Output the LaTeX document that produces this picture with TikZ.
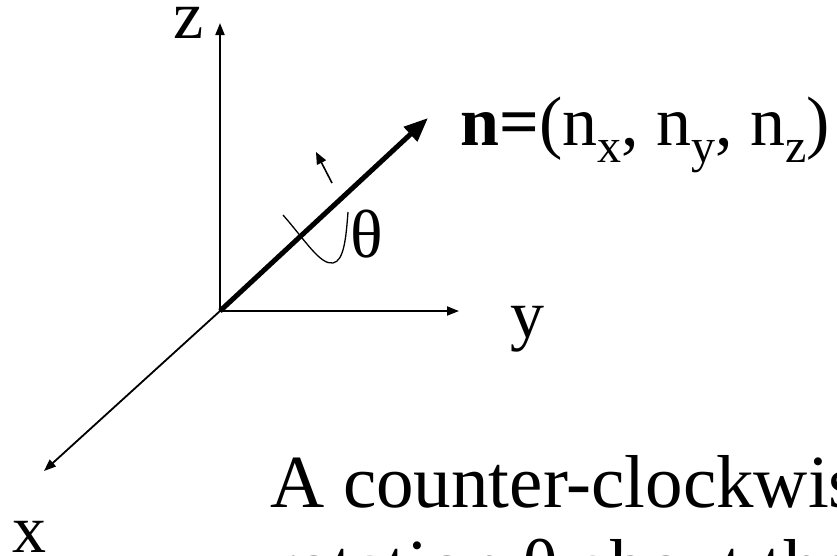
\documentclass[tikz,border=0pt]{standalone}
\usepackage{fontspec}
\setmainfont{Liberation Serif}
\usetikzlibrary{arrows.meta}
\begin{document}
\begin{tikzpicture}[x=1pt,y=-1pt,
  axis/.style={line width=1.8pt,-{Triangle[length=12pt,width=9pt]}},
  nvec/.style={line width=5pt,-{Triangle[length=24pt,width=19pt]}},
  rotarrow/.style={line width=1.6pt,-{Triangle[length=12pt,width=10pt]}},
  rotcurve/.style={line width=1.3pt},
  lab/.style={inner sep=0pt,anchor=base west,font=\fontsize{68}{80}\selectfont},
  nlab/.style={inner sep=0pt,anchor=base west,font=\fontsize{70}{80}\selectfont},
  bigtext/.style={inner sep=0pt,anchor=base west,font=\fontsize{75}{84}\selectfont}]
\useasboundingbox (0,0) rectangle (837,555);
\clip (0,0) rectangle (837,555);
\coordinate (O) at (220,311);
\coordinate (ztip) at (220,23);
\coordinate (ytip) at (459,311);
\coordinate (xtip) at (44,471);
\coordinate (ntip) at (428,118);
\coordinate (rs) at (332,183);
\coordinate (rt) at (316,152);
\coordinate (cs) at (283,215);
\coordinate (cb) at (333,263);
\coordinate (ce) at (348,212);
\draw[axis] (O) -- (ztip);
\draw[axis] (O) -- (ytip);
\draw[axis] (O) -- (xtip);
\draw[rotcurve] (cs) .. controls (305,240) and (320,265) .. (cb)
  .. controls (344,261) and (346,238) .. (ce);
\draw[nvec] (O) -- (ntip);
\draw[rotarrow] (rs) -- (rt);
\node[lab] (zl) at (173,38) {z};
\node[lab] (yl) at (510,337) {y};
\node[lab] (xl) at (12,552) {x};
\node[lab] (th) at (350,257) {θ};
\node[nlab] (nl) at (460,145) {\textbf{n=}(n\raisebox{-17pt}{\fontsize{48}{48}\selectfont x}, n\raisebox{-17pt}{\fontsize{48}{48}\selectfont y}, n\raisebox{-17pt}{\fontsize{48}{48}\selectfont z})};
\node[bigtext] (t1) at (270,507) {A counter-clockwise};
\node[bigtext] (t2) at (270,591) {rotation θ about the};
\end{tikzpicture}
\end{document}
